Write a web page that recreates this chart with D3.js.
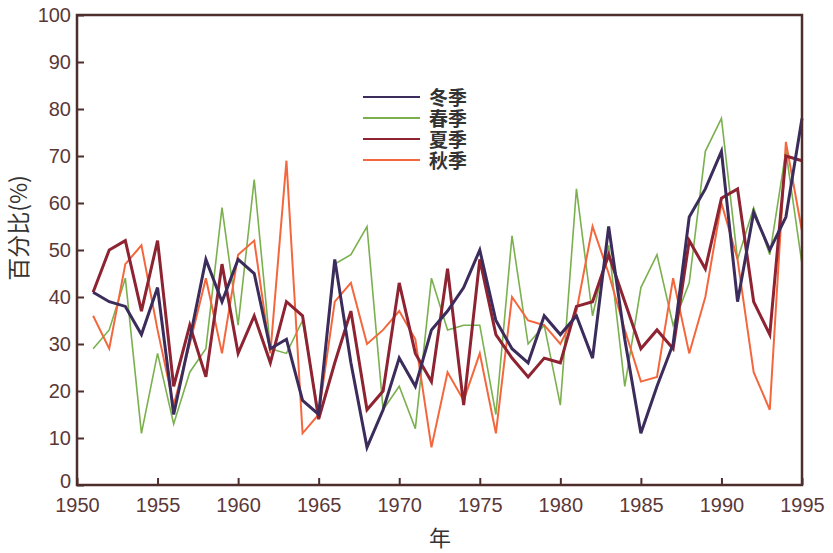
<!DOCTYPE html>
<html>
<head>
<meta charset="utf-8">
<script src="https://cdn.jsdelivr.net/npm/d3@7"></script>
<style>
  body { margin: 0; background: #fff; }
  text { font-family: "Liberation Sans", Arial, sans-serif; }
  .legend-labels { font-family: "Noto Sans CJK SC", sans-serif; font-size: 19px; font-weight: bold;
                   line-height: 21px; color: #333; margin: 0; }
</style>
</head>
<body>
<script>
// seasonal percentage series, 1951-1995
var years = d3.range(1951, 1996);

var winter = [41, 39, 38, 32, 42, 15, 31, 48, 39, 48,
              45, 29, 31, 18, 15, 48, 26, 8, 16, 27,
              21, 33, 37, 42, 50, 35, 29, 26, 36, 32,
              36, 27, 55, 31, 11, 21, 30, 57, 63, 71,
              39, 58, 50, 57, 78];
var spring = [29, 33, 44, 11, 28, 13, 24, 29, 59, 34,
              65, 29, 28, 35, 15, 47, 49, 55, 16, 21,
              12, 44, 33, 34, 34, 15, 53, 30, 34, 17,
              63, 36, 51, 21, 42, 49, 34, 43, 71, 78,
              48, 59, 49, 71, 47];
var summer = [41, 50, 52, 37, 52, 21, 34, 23, 47, 28,
              36, 26, 39, 36, 14, 26, 37, 16, 20, 43,
              28, 22, 46, 17, 48, 32, 27, 23, 27, 26,
              38, 39, 49, 39, 29, 33, 29, 52, 46, 61,
              63, 39, 32, 70, 69];
var autumn = [36, 29, 47, 51, 33, 17, 30, 44, 28, 49,
              52, 28, 69, 11, 15, 39, 43, 30, 33, 37,
              31, 8, 24, 18, 28, 11, 40, 35, 34, 30,
              37, 55, 45, 33, 22, 23, 44, 28, 40, 60,
              48, 24, 16, 73, 54];

var seriesNames = ['冬季', '春季', '夏季', '秋季'];
var seriesData = [winter, spring, summer, autumn];
var seriesColors = ['#3b2c5c', '#7bb04e', '#8e2332', '#f4673d'];
var seriesWidths = [3, 1.6, 3, 2];

var yTicks = [0, 10, 20, 30, 40, 50, 60, 70, 80, 90, 100];
var xTicks = [1950, 1955, 1960, 1965, 1970, 1975, 1980, 1985, 1990, 1995];

var width = 833, height = 553;
var margin = {left: 77, right: 31, top: 15, bottom: 68};

var svg = d3.select('body').append('svg')
            .attr('width', width)
            .attr('height', height);

var x = d3.scaleLinear().domain([1950, 1995])
          .range([margin.left, width - margin.right]);
var y = d3.scaleLinear().domain([0, 100])
          .range([height - margin.bottom, margin.top]);

var axisColor = '#4e2d2d';
var labelColor = '#5b3838';

// lines
var line = d3.line()
             .x(function(d, i) { return x(years[i]); })
             .y(function(d) { return y(d); });

// draw order: spring, autumn, summer, winter on top
[1, 3, 2, 0].forEach(function(k) {
  svg.append('path')
     .datum(seriesData[k])
     .attr('fill', 'none')
     .attr('stroke', seriesColors[k])
     .attr('stroke-width', seriesWidths[k])
     .attr('stroke-linejoin', 'miter')
     .attr('d', line);
});

// axes with inward ticks
var yAxis = svg.append('g')
               .attr('transform', 'translate(' + margin.left + ',0)')
               .call(d3.axisLeft(y).tickValues(yTicks).tickSize(-7).tickPadding(6));
var xAxis = svg.append('g')
               .attr('transform', 'translate(0,' + (height - margin.bottom) + ')')
               .call(d3.axisBottom(x).tickValues(xTicks).tickFormat(d3.format('d')).tickSize(-7).tickPadding(13));

[yAxis, xAxis].forEach(function(g) {
  g.select('.domain').remove();
  g.selectAll('line').attr('stroke', axisColor).attr('stroke-width', 2);
  g.selectAll('text').attr('fill', labelColor)
   .style('font-size', '20px')
   .style('font-family', '"Liberation Sans", Arial, sans-serif');
});
// the "0" sits a little above the corner
yAxis.selectAll('.tick text').filter(function(d) { return d === 0; }).attr('dy', '0.1em');

// frame
svg.append('rect')
   .attr('x', margin.left)
   .attr('y', margin.top)
   .attr('width', width - margin.right - margin.left)
   .attr('height', height - margin.bottom - margin.top)
   .attr('fill', 'none')
   .attr('stroke', axisColor)
   .attr('stroke-width', 2.5);

// axis titles
svg.append('text')
   .attr('transform', 'translate(27,228) rotate(-90)')
   .attr('text-anchor', 'middle')
   .attr('fill', '#333')
   .style('font-size', '23px')
   .style('font-family', '"Noto Sans CJK SC", sans-serif')
   .text('百分比(%)');

svg.append('text')
   .attr('x', 440)
   .attr('y', 546)
   .attr('text-anchor', 'middle')
   .attr('fill', '#333')
   .style('font-size', '22px')
   .style('font-family', '"Noto Sans CJK SC", sans-serif')
   .text('年');

// legend
var legend = svg.append('g').attr('transform', 'translate(363,97)');
seriesNames.forEach(function(name, i) {
  legend.append('line')
        .attr('x1', 0).attr('x2', 57)
        .attr('y1', i * 21).attr('y2', i * 21)
        .attr('stroke', seriesColors[i])
        .attr('stroke-width', 2);
});
legend.append('foreignObject')
      .attr('x', 66).attr('y', -11)
      .attr('width', 70).attr('height', 90)
      .append('xhtml:div')
      .attr('class', 'legend-labels')
      .html(seriesNames.join('<br>'));
</script>
</body>
</html>
